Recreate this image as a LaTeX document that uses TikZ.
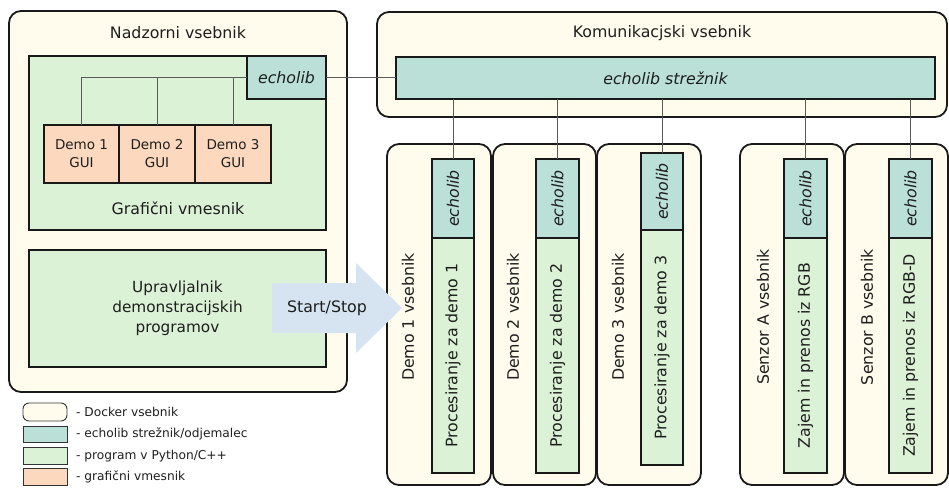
\documentclass[tikz,border=0pt]{standalone}
\usepackage{fontspec}
\setmainfont{DejaVu Sans}
\usetikzlibrary{positioning}

\definecolor{dockerfill}{RGB}{255,252,238}
\definecolor{echofill}{RGB}{186,224,216}
\definecolor{progfill}{RGB}{220,242,214}
\definecolor{guifill}{RGB}{252,217,190}
\definecolor{arrowfill}{RGB}{214,228,241}
\definecolor{linegray}{RGB}{90,90,90}
\definecolor{textgray}{RGB}{30,30,30}

\begin{document}
\begin{tikzpicture}[x=1pt, y=-1pt,
    every node/.style={text=textgray},
    box/.style={draw=black!90, line width=1.8pt, inner sep=0pt, outer sep=0pt, anchor=north west},
    docker/.style={box, fill=dockerfill, rounded corners=12pt},
    echo/.style={box, fill=echofill, font=\itshape},
    prog/.style={box, fill=progfill},
    gui/.style={box, fill=guifill, align=center, font=\fontsize{13.5}{18}\selectfont},
    conn/.style={draw=linegray, line width=0.8pt},
    legbox/.style={draw=black!80, line width=0.9pt, inner sep=0pt, outer sep=0pt, anchor=north west, minimum width=44, minimum height=17},
    legtext/.style={anchor=west, inner sep=0pt, font=\fontsize{12.2}{14}\selectfont}]
  \fontsize{15.8}{20}\selectfont
  \useasboundingbox (0,0) rectangle (949,487);

  % Nadzorni vsebnik
  \node[docker, minimum width=338, minimum height=381] (nadzor) at (9,11) {};
  \node (nadzortitle) at (178,33) {Nadzorni vsebnik};
  \node[prog, minimum width=297, minimum height=174] (gvm) at (29,56) {};
  \node (gvmtitle) at (178,208) {Grafični vmesnik};
  \node[echo, minimum width=79, minimum height=43] (ech0) at (247,56) {echolib};
  \node[gui, minimum width=75, minimum height=58] (gui1) at (44,125) {Demo 1\\GUI};
  \node[gui, minimum width=76, minimum height=58] (gui2) at (119,125) {Demo 2\\GUI};
  \node[gui, minimum width=76, minimum height=58] (gui3) at (195,125) {Demo 3\\GUI};
  \node[prog, minimum width=297, minimum height=117, align=center, font=\fontsize{15.3}{20}\selectfont] (upr) at (29,250) {Upravljalnik\\demonstracijskih\\programov};

  % Komunikacjski vsebnik
  \node[docker, minimum width=570, minimum height=105] (komun) at (377,12) {};
  \node (komuntitle) at (662,33) {Komunikacjski vsebnik};
  \node[echo, minimum width=539, minimum height=42] (server) at (396,57) {echolib strežnik};

  % demo vsebniki
  \node[docker, minimum width=104, minimum height=341] (demo1) at (387,144) {};
  \node[rotate=90] (demo1title) at (408,317) {Demo 1 vsebnik};
  \node[echo, minimum width=42, minimum height=79] (ech1) at (432,159) {};
  \node[rotate=90, font=\itshape] (ech1text) at (ech1) {echolib};
  \node[prog, minimum width=42, minimum height=235] (proc1) at (432,238) {};
  \node[rotate=90] (proc1text) at (proc1) {Procesiranje za demo 1};

  \node[docker, minimum width=103, minimum height=341] (demo2) at (493,144) {};
  \node[rotate=90] (demo2title) at (513,317) {Demo 2 vsebnik};
  \node[echo, minimum width=43, minimum height=79] (ech2) at (536,159) {};
  \node[rotate=90, font=\itshape] (ech2text) at (ech2) {echolib};
  \node[prog, minimum width=43, minimum height=235] (proc2) at (536,238) {};
  \node[rotate=90] (proc2text) at (proc2) {Procesiranje za demo 2};

  \node[docker, minimum width=104, minimum height=341] (demo3) at (597,144) {};
  \node[rotate=90] (demo3title) at (618,317) {Demo 3 vsebnik};
  \node[echo, minimum width=42, minimum height=77] (ech3) at (641,153) {};
  \node[rotate=90, font=\itshape] (ech3text) at (ech3) {echolib};
  \node[prog, minimum width=42, minimum height=235] (proc3) at (641,230) {};
  \node[rotate=90] (proc3text) at (proc3) {Procesiranje za demo 3};

  % senzorji
  \node[docker, minimum width=104, minimum height=341] (senA) at (740,144) {};
  \node[rotate=90] (senAtitle) at (763,317) {Senzor A vsebnik};
  \node[echo, minimum width=43, minimum height=79] (echA) at (784,159) {};
  \node[rotate=90, font=\itshape] (echAtext) at (echA) {echolib};
  \node[prog, minimum width=43, minimum height=235] (procA) at (784,238) {};
  \node[rotate=90] (procAtext) at (procA) {Zajem in prenos iz RGB};

  \node[docker, minimum width=103, minimum height=341] (senB) at (845,144) {};
  \node[rotate=90] (senBtitle) at (867,317) {Senzor B vsebnik};
  \node[echo, minimum width=43, minimum height=79] (echB) at (889,159) {};
  \node[rotate=90, font=\itshape] (echBtext) at (echB) {echolib};
  \node[prog, minimum width=43, minimum height=235] (procB) at (889,238) {};
  \node[rotate=90] (procBtext) at (procB) {Zajem in prenos iz RGB-D};

  % povezave
  \draw[conn] (gui1.north) |- (ech0.west);
  \draw[conn] (gui2.north) |- (ech0.west);
  \draw[conn] (gui3.north) |- (ech0.west);
  \draw[conn] (ech0.east) -- (ech0.east -| server.west);
  \draw[conn] (ech1.north) -- (ech1.north |- server.south);
  \draw[conn] (ech2.north) -- (ech2.north |- server.south);
  \draw[conn] (ech3.north) -- (ech3.north |- server.south);
  \draw[conn] (echA.north) -- (echA.north |- server.south);
  \draw[conn] (echB.north) -- (echB.north |- server.south);

  % Start/Stop
  \fill[arrowfill] (272,283) -- (356,283) -- (356,263) -- (402,308) -- (356,353) -- (356,333) -- (272,333) -- cycle;
  \node (startstop) at (327,308) {Start/Stop};

  % legenda
  \node[legbox, fill=dockerfill, minimum height=18, rounded corners=6pt] (legdocker) at (23,403) {};
  \node[legtext] (legdockertext) at (76,412) {- Docker vsebnik};
  \node[legbox, fill=echofill, minimum height=16] (legecho) at (23,426) {};
  \node[legtext] (legechotext) at (76,434) {- echolib strežnik/odjemalec};
  \node[legbox, fill=progfill] (legprog) at (23,447) {};
  \node[legtext] (legprogtext) at (76,456) {- program v Python/C++};
  \node[legbox, fill=guifill] (leggui) at (23,468) {};
  \node[legtext] (legguitext) at (76,477) {- grafični vmesnik};
\end{tikzpicture}
\end{document}
